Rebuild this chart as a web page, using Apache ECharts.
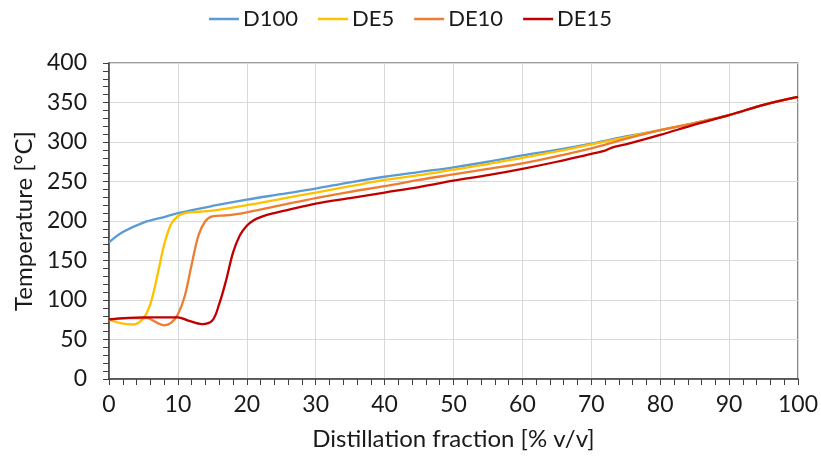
<!DOCTYPE html>
<html>
	<head>
		<meta charset="UTF-8">
		<title>Distillation curves</title>
		<script type="text/javascript" src="https://cdn.jsdelivr.net/npm/echarts@6/dist/echarts.min.js"></script>
	</head>
	<body style="margin:0;background:#fff;">
		<div id="chart" style="width:821px;height:466px;"></div>
	</body>
</html>
<script type="text/javascript">
// series names
var seriesNames = ['D100', 'DE5', 'DE10', 'DE15'];

// distillation fraction [% v/v] for each curve
var d100X = [0, 2, 5, 8, 10, 15, 20, 25, 30, 35, 40, 45, 50, 55, 60, 65, 70, 75, 80, 85, 90, 95, 100];
var de5X  = [0, 2, 3.5, 5, 6, 7, 8, 9, 10, 11, 12, 15, 20, 25, 30, 35, 40, 45, 50, 55, 60, 65, 70, 75, 80, 85, 90, 95, 100];
var de10X = [0, 3, 5.5, 7, 8, 9, 10, 11, 12, 13, 14, 15, 17, 18, 20, 25, 30, 35, 40, 45, 50, 55, 60, 65, 70, 75, 80, 85, 90, 95, 100];
var de15X = [0, 5, 10, 11.5, 13.5, 15, 16, 17, 18, 19, 20, 21, 22, 24, 26, 30, 35, 40, 45, 50, 55, 60, 65, 70, 72, 73, 75, 80, 85, 90, 95, 100];

// temperature [°C]
var d100Y = [173, 186, 198, 205, 210, 219, 227, 234, 241, 249, 256, 262, 268, 275, 283, 290, 298, 307, 315, 324, 334, 347, 357];
var de5Y  = [75, 70, 69, 77, 95, 130, 170, 196, 206, 210, 211, 213, 220, 228, 236, 244, 252, 258, 265, 272, 280, 288, 297, 306, 315, 324, 334, 347, 357];
var de10Y = [75, 77, 77, 71, 68, 71, 82, 105, 145, 182, 200, 206, 207, 208, 211, 220, 229, 237, 244, 252, 259, 266, 273, 282, 292, 304, 315, 324, 334, 347, 357];
var de15Y = [75.5, 78, 78, 74, 69.5, 74, 95, 125, 160, 182, 194, 201, 205, 210, 214, 222, 229, 236, 243, 251, 258, 266, 275, 285, 289, 293, 297, 309, 322, 334, 347, 357];

var colors = ['#5b9bd5', '#ffc000', '#ed7d31', '#c00000'];

function pairs(xs, ys) {
	var out = [];
	for (var i = 0; i < xs.length; i++) {
		out.push([xs[i], ys[i]]);
	}
	return out;
}

var allData = [pairs(d100X, d100Y), pairs(de5X, de5Y), pairs(de10X, de10Y), pairs(de15X, de15Y)];

var font = 'Lato, "Open Sans", sans-serif';
var series = [];
for (var i = 0; i < seriesNames.length; i++) {
	series.push({
		name: seriesNames[i],
		type: 'line',
		data: allData[i],
		symbol: 'none',
		smooth: 0.35,
		lineStyle: { width: 2.3, color: colors[i] },
		itemStyle: { color: colors[i] },
		z: 2 + i
	});
}

var myChart = echarts.init(document.getElementById('chart'), null, { renderer: 'canvas' });
var option = {
	backgroundColor: '#ffffff',
	animation: false,
	textStyle: { fontFamily: font },
	legend: {
		top: 3,
		left: 'center',
		icon: 'rect',
		itemWidth: 30,
		itemHeight: 2.5,
		itemGap: 20,
		textStyle: { fontSize: 22, color: '#1a1a1a', fontFamily: font, padding: [0, 0, 0, -1] },
		data: seriesNames
	},
	grid: {
		left: 109,
		right: 23,
		top: 63,
		bottom: 87,
		show: true,
		borderColor: '#3f3f3f',
		borderWidth: 1.2
	},
	xAxis: {
		type: 'value',
		min: 0,
		max: 100,
		interval: 10,
		name: 'Distillation fraction [% v/v]',
		nameLocation: 'middle',
		nameGap: 48,
		nameTextStyle: { fontSize: 24, color: '#1a1a1a', fontFamily: font },
		axisLine: { show: true, lineStyle: { color: '#3f3f3f', width: 1.5 } },
		axisTick: { show: true, inside: false, length: 6, lineStyle: { color: '#3f3f3f' } },
		minorTick: { show: true, splitNumber: 5, length: 6, lineStyle: { color: '#3f3f3f' } },
		axisLabel: { fontSize: 23, color: '#1a1a1a', margin: 14, fontFamily: font },
		splitLine: { show: true, lineStyle: { color: '#d9d9d9', width: 1 } }
	},
	yAxis: {
		type: 'value',
		min: 0,
		max: 400,
		interval: 50,
		name: 'Temperature [°C]',
		nameLocation: 'middle',
		nameGap: 70,
		nameTextStyle: { fontSize: 24, color: '#1a1a1a', fontFamily: font },
		axisLine: { show: true, lineStyle: { color: '#3f3f3f', width: 1.5 } },
		axisTick: { show: true, inside: false, length: 6, lineStyle: { color: '#3f3f3f' } },
		minorTick: { show: true, splitNumber: 5, length: 6, lineStyle: { color: '#3f3f3f' } },
		axisLabel: { fontSize: 23, color: '#1a1a1a', margin: 22, fontFamily: font },
		splitLine: { show: true, lineStyle: { color: '#d9d9d9', width: 1 } }
	},
	series: series
};
myChart.setOption(option);
</script>
